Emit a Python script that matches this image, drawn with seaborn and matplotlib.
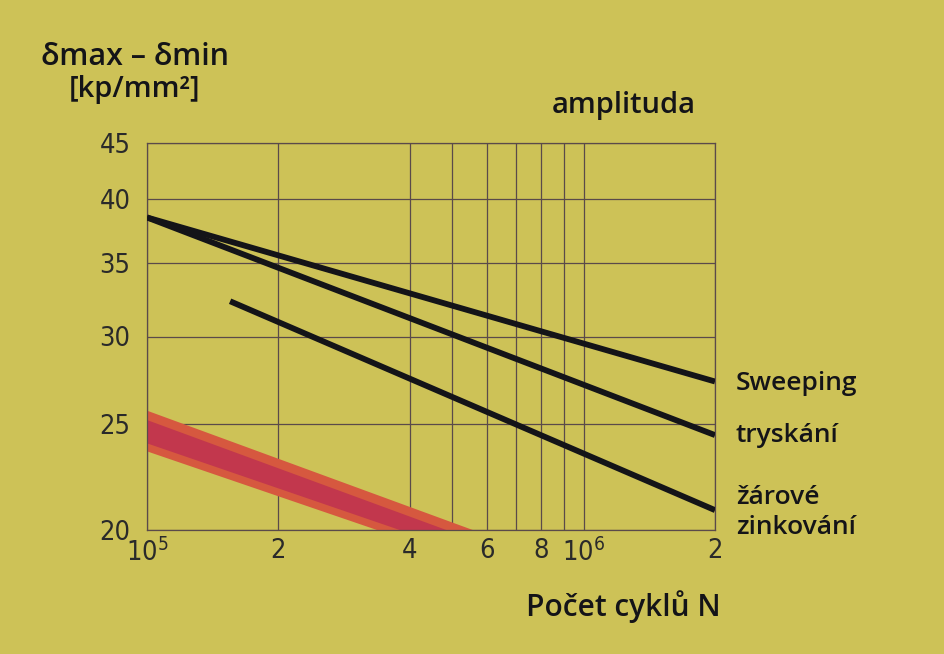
import numpy as np
import pandas as pd
import matplotlib
matplotlib.use("Agg")
import matplotlib.pyplot as plt
import seaborn as sns

n_lines = [1e5, 2e6]
sweeping = [38.5, 27.3]
tryskani = [38.5, 24.4]
n_zink = [1.55e5, 2e6]
zinkovani = [32.3, 20.85]

# Bande rouge (coupée par l'axe à 20)
band_n = [1e5, 6e5]
band_hi = [25.7, 19.8]
band_lo = [23.6, 18.5]
core_hi = [25.2, 19.4]
core_lo = [24.0, 18.8]

x_ticks = [1e5, 2e5, 4e5, 6e5, 8e5, 1e6, 2e6]
x_labels = ["$10^5$", "2", "4", "6", "8", "$10^6$", "2"]
x_grid = [1e5, 2e5, 4e5, 5e5, 6e5, 7e5, 8e5, 9e5, 1e6, 2e6]
y_ticks = [20, 25, 30, 35, 40, 45]

BG = "#cdc257"
GRID = "#5a4a4a"
INK = "#141418"

sns.set_theme(style="white")
plt.rcParams["font.family"] = ["Open Sans", "DejaVu Sans"]
plt.rcParams["mathtext.default"] = "regular"

fig = plt.figure(figsize=(9.45, 6.54), dpi=100, facecolor=BG)
ax = fig.add_axes([147 / 945, 1 - 530 / 654, (715 - 147) / 945, (530 - 143) / 654])
ax.set_facecolor(BG)
ax.set_xscale("log")
ax.set_yscale("log")
ax.set_xlim(1e5, 2e6)
ax.set_ylim(20, 45)

# Grille
for xv in x_grid:
    ax.axvline(xv, color=GRID, lw=0.9, zorder=1)
for yv in y_ticks:
    ax.axhline(yv, color=GRID, lw=0.9, zorder=1)

# Bande rouge
ax.fill_between(band_n, band_lo, band_hi, color="#d6583f", lw=0, zorder=2)
ax.fill_between(band_n, core_lo, core_hi, color="#c2374d", lw=0, zorder=2)

# Courbes
df = pd.concat([
    pd.DataFrame({"N": n_lines, "s": sweeping, "k": "Sweeping"}),
    pd.DataFrame({"N": n_lines, "s": tryskani, "k": "tryskání"}),
    pd.DataFrame({"N": n_zink, "s": zinkovani, "k": "zink"}),
])
sns.lineplot(data=df, x="N", y="s", units="k", estimator=None, color=INK,
             lw=4.2, ax=ax, zorder=3, solid_capstyle="butt")

for sp in ax.spines.values():
    sp.set_color(GRID)
    sp.set_linewidth(0.9)

ax.set_xticks(x_ticks)
ax.set_xticklabels(x_labels)
ax.xaxis.set_minor_locator(matplotlib.ticker.NullLocator())
ax.set_yticks(y_ticks)
ax.set_yticklabels([str(v) for v in y_ticks])
ax.yaxis.set_minor_locator(matplotlib.ticker.NullLocator())
ax.tick_params(length=0, labelsize=19.5, colors="#2a2a2a")
ax.tick_params(axis="x", pad=6)
ax.tick_params(axis="y", pad=12)
for lab in ax.get_xticklabels() + ax.get_yticklabels():
    lab.set_family("DejaVu Sans")
    lab.set_stretch("condensed")
ax.set_xlabel("")
ax.set_ylabel("")

# Textes
fig.text(135 / 945, 1 - 57 / 654, "δmax – δmin", ha="center", va="center",
         fontsize=22, fontweight="semibold", color=INK)
fig.text(135 / 945, 1 - 89 / 654, "[kp/mm²]", ha="center", va="center",
         fontsize=21, fontweight="semibold", color=INK)
fig.text(624 / 945, 1 - 106 / 654, "amplituda", ha="center", va="center",
         fontsize=21, fontweight="semibold", color=INK)
fig.text(736 / 945, 1 - 384 / 654, "Sweeping", ha="left", va="center",
         fontsize=19, fontweight="semibold", color=INK)
fig.text(736 / 945, 1 - 436 / 654, "tryskání", ha="left", va="center",
         fontsize=19, fontweight="semibold", color=INK)
fig.text(736 / 945, 1 - 497 / 654, "žárové", ha="left", va="center",
         fontsize=19, fontweight="semibold", color=INK)
fig.text(736 / 945, 1 - 527 / 654, "zinkování", ha="left", va="center",
         fontsize=19, fontweight="semibold", color=INK)
fig.text(721 / 945, 1 - 607 / 654, "Počet cyklů N", ha="right", va="center",
         fontsize=21.5, fontweight="semibold", color=INK)

fig.savefig("out.png", dpi=100, facecolor=BG)
